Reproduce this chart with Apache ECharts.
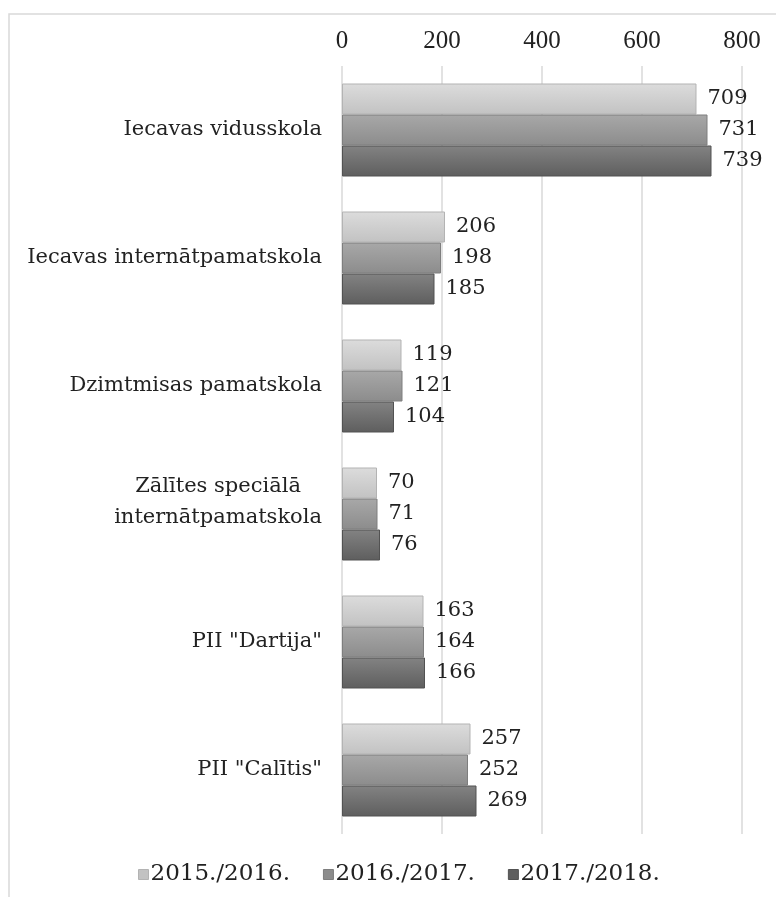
<!DOCTYPE html>
<html><head><meta charset="utf-8">
<script src="https://cdn.jsdelivr.net/npm/echarts@6/dist/echarts.min.js"></script>
<style>html,body{margin:0;padding:0;background:#fff}#c{width:776px;height:897px}</style>
</head><body><div id="c"></div>
<script>
const categories = ['Iecavas vidusskola', 'Iecavas internātpamatskola', 'Dzimtmisas pamatskola', 'Zālītes speciālā\ninternātpamatskola', 'PII "Dartija"', 'PII "Calītis"'];
const seriesNames = ['2015./2016.', '2016./2017.', '2017./2018.'];
const v2015 = [709, 206, 119, 70, 163, 257];
const v2016 = [731, 198, 121, 71, 164, 252];
const v2017 = [739, 185, 104, 76, 166, 269];
const xTicks = [0, 200, 400, 600, 800];

const serif = 'DejaVu Serif';
const grads = [
  ['#dcdcdc', '#c2c2c2', '#b3b3b3'],
  ['#a8a8a8', '#8c8c8c', '#7e7e7e'],
  ['#838383', '#5e5e5e', '#525252']
];
function grad(g) {
  return new echarts.graphic.LinearGradient(0, 0, 0, 1, [{offset: 0, color: g[0]}, {offset: 1, color: g[1]}]);
}
const values = [v2015, v2016, v2017];
const chart = echarts.init(document.getElementById('c'), null, {renderer: 'canvas'});
chart.setOption({
  animation: false,
  backgroundColor: '#fff',
  graphic: [{type: 'rect', shape: {x: 9, y: 14, width: 820, height: 920}, style: {fill: 'none', stroke: '#d9d9d9', lineWidth: 1.5}, silent: true}],
  grid: {left: 342, right: 34, top: 66, bottom: 63},
  legend: {
    top: 858, left: 133, itemWidth: 10, itemHeight: 10, itemGap: 33,
    icon: 'rect',
    textStyle: {fontFamily: serif, fontSize: 23, color: '#222', padding: [0, 0, 0, -3]},
    data: seriesNames.map((n, i) => ({name: n, itemStyle: {color: grads[i][1], borderColor: grads[i][2], borderWidth: 1}}))
  },
  xAxis: {
    type: 'value', position: 'top', min: 0, max: 800, interval: 200,
    axisLine: {show: false}, axisTick: {show: false},
    axisLabel: {fontFamily: 'Liberation Serif', fontSize: 25, color: '#222', margin: 12,
      formatter: v => xTicks.includes(v) ? String(v) : ''},
    splitLine: {lineStyle: {color: '#d9d9d9', width: 1.5}}
  },
  yAxis: {
    type: 'category',
    data: categories.map(c => c.includes('\n') ? {value: c, textStyle: {padding: [0, 0, 24, 0]}} : c),
    inverse: true,
    axisLine: {show: false}, axisTick: {show: false},
    axisLabel: {
      margin: 20, fontFamily: serif, fontSize: 21, color: '#222', lineHeight: 31,
      formatter: v => v.split('\n').map(s => '{c|' + s + '}').join('\n'),
      rich: {c: {fontFamily: serif, fontSize: 21, color: '#222', align: 'center', lineHeight: 31}}
    }
  },
  series: values.map((arr, i) => ({
    name: seriesNames[i], type: 'bar', data: arr, barWidth: 31, barGap: '0%',
    itemStyle: {color: grad(grads[i]), borderColor: grads[i][2], borderWidth: 1},
    label: {show: true, position: 'right', distance: 11, fontFamily: serif, fontSize: 21, color: '#222'}
  }))
});
</script></body></html>
